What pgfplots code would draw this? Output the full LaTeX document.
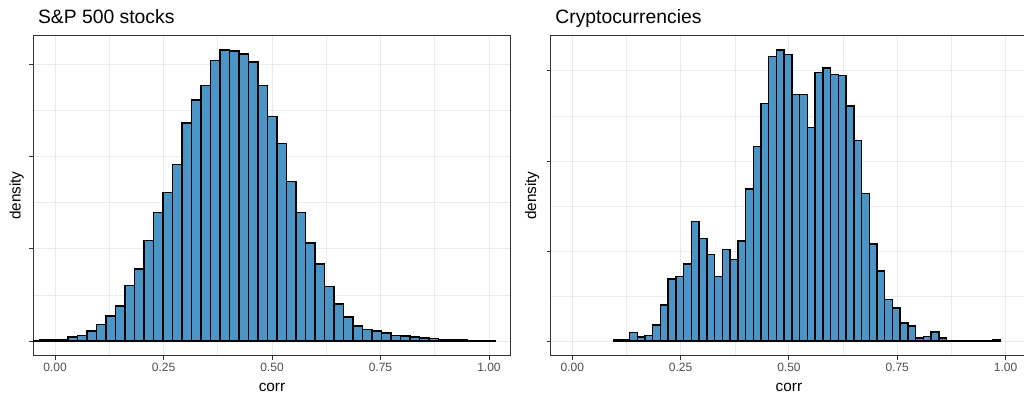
\documentclass[border=0pt]{standalone}
\usepackage{fontspec}
\setmainfont{Liberation Sans}
\usepackage{pgfplots}
\pgfplotsset{compat=1.18}
\definecolor{barfill}{RGB}{74,148,198}
\definecolor{gridc}{RGB}{235,235,235}
\definecolor{grey20}{RGB}{51,51,51}
\definecolor{grey30}{RGB}{77,77,77}
\pgfplotsset{
  panel/.style={
    scale only axis, width=358pt, height=240pt,
    xmin=-0.05, xmax=1.05,
    xtick={0,0.25,0.5,0.75,1}, xticklabels={0.00,0.25,0.50,0.75,1.00},
    minor x tick num=1, minor y tick num=1,
    ytick={0,1,2,3}, yticklabels={},
    grid=both,
    major grid style={gridc, line width=0.7pt},
    minor grid style={gridc, line width=0.4pt},
    axis line style={grey20, line width=0.8pt},
    tick style={grey20, line width=0.7pt},
    major tick length=3pt, minor tick length=0pt,
    tick align=outside, tick pos=left,
    tick label style={font=\fontsize{9}{10}\selectfont, text=grey30},
    xticklabel style={anchor=base, yshift=-8.7pt},
    xlabel={corr}, ylabel={density},
    label style={font=\fontsize{11.5}{13}\selectfont},
    xlabel style={at={(axis description cs:0.5,0)}, anchor=base, yshift=-27pt},
    title style={at={(axis description cs:0,1)}, anchor=base west, yshift=3.4pt, font=\fontsize{14.5}{16}\selectfont},
  },
  bars/.style={ybar interval, fill=barfill, draw=black, line width=1.1pt}
}
\begin{document}
\begin{tikzpicture}
\begin{axis}[panel, at={(25pt,31pt)}, anchor=south west,
  ymin=-0.1575, ymax=3.3075, title={S\&P 500 stocks},
  ylabel style={at={(axis description cs:-0.035,0.5)}, anchor=center}]
\addplot[bars] coordinates {
(-0.0576,0.005) (-0.0357,0.01) (-0.0138,0.015) (0.0081,0.02) (0.0300,0.045)
(0.0519,0.06) (0.0738,0.11) (0.0957,0.18) (0.1176,0.27) (0.1395,0.38)
(0.1614,0.60) (0.1833,0.78) (0.2052,1.09) (0.2271,1.39) (0.2490,1.61)
(0.2709,1.91) (0.2928,2.36) (0.3147,2.61) (0.3366,2.77) (0.3585,3.04)
(0.3804,3.15) (0.4023,3.14) (0.4242,3.11) (0.4461,3.02) (0.4680,2.77)
(0.4899,2.43) (0.5118,2.14) (0.5337,1.73) (0.5556,1.39) (0.5775,1.06)
(0.5994,0.835) (0.6213,0.59) (0.6432,0.40) (0.6651,0.26) (0.6870,0.166)
(0.7089,0.126) (0.7308,0.112) (0.7527,0.09) (0.7746,0.06) (0.7965,0.054)
(0.8184,0.043) (0.8403,0.036) (0.8622,0.026) (0.8841,0.02) (0.9060,0.015)
(0.9279,0.01) (0.9498,0.008) (0.9717,0.005) (0.9936,0.005) (1.0155,0.005)
};
\end{axis}
\begin{axis}[panel, at={(413pt,31pt)}, anchor=south west, width=357.4pt,
  ymin=-0.1615, ymax=3.3915, title={Cryptocurrencies},
  ylabel style={at={(axis description cs:-0.0386,0.5)}, anchor=center}]
\addplot[bars] coordinates {
(0.0963,0.01) (0.1142,0.01) (0.1320,0.094) (0.1499,0.047) (0.1677,0.061)
(0.1856,0.18) (0.2034,0.40) (0.2213,0.69) (0.2391,0.72) (0.2570,0.855)
(0.2748,1.33) (0.2927,1.14) (0.3105,0.96) (0.3284,0.72) (0.3462,1.02)
(0.3641,0.905) (0.3819,1.11) (0.3998,1.69) (0.4176,2.16) (0.4355,2.64)
(0.4533,3.16) (0.4712,3.23) (0.4890,3.18) (0.5069,2.74) (0.5248,2.74)
(0.5426,2.37) (0.5605,2.98) (0.5783,3.03) (0.5962,2.96) (0.6140,2.95)
(0.6319,2.61) (0.6497,2.23) (0.6676,1.64) (0.6854,1.08) (0.7033,0.78)
(0.7211,0.46) (0.7390,0.37) (0.7568,0.20) (0.7747,0.17) (0.7925,0.036)
(0.8104,0.054) (0.8282,0.099) (0.8461,0.036) (0.8639,0) (0.8818,0)
(0.8996,0) (0.9175,0) (0.9353,0) (0.9532,0) (0.9710,0.02)
(0.9889,0.02)
};
\end{axis}
\pgfresetboundingbox
\useasboundingbox (0,0) rectangle (768pt,297.75pt);
\end{tikzpicture}
\end{document}
